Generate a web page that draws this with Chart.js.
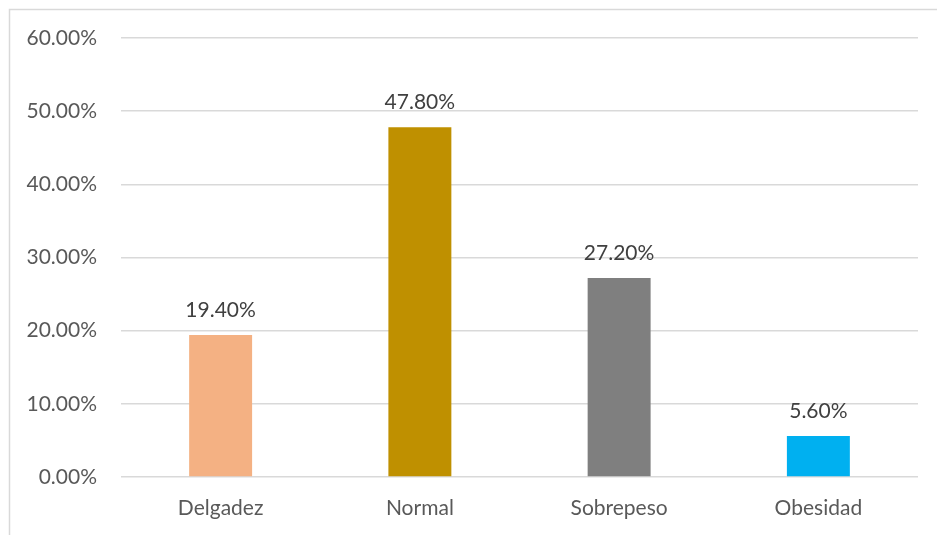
<!DOCTYPE html>
<html>
<head>
<meta charset="utf-8">
<script src="https://cdn.jsdelivr.net/npm/chart.js@4/dist/chart.umd.min.js"></script>
<style>
  html, body { margin: 0; padding: 0; background: #fff; }
  #wrap { width: 937px; height: 535px; }
</style>
</head>
<body>
<div id="wrap"><canvas id="myChart" width="937" height="535"></canvas></div>
<script>
const categories = ["Delgadez", "Normal", "Sobrepeso", "Obesidad"];
const values = [19.4, 47.8, 27.2, 5.6];
const barColors = ["#F4B183", "#BF9000", "#7F7F7F", "#00B0F0"];
const yTicks = [0, 10, 20, 30, 40, 50, 60];

const FONT = "Lato, 'Liberation Sans', sans-serif";
const TEXT = "#595959";

const pct = (v) => v.toFixed(2) + "%";

// outer frame of the chart, left and top edges only show
const framePlugin = {
  id: "frame",
  beforeDraw(chart) {
    const c = chart.ctx;
    c.save();
    c.strokeStyle = "#D9D9D9";
    c.lineWidth = 1.5;
    c.strokeRect(9.5, 9.5, chart.width + 20, chart.height + 20);
    c.restore();
  },
};

// value labels above each bar
const valueLabels = {
  id: "valueLabels",
  afterDatasetsDraw(chart) {
    const c = chart.ctx;
    const meta = chart.getDatasetMeta(0);
    c.save();
    c.font = "21px " + FONT;
    c.fillStyle = "#404040";
    c.textAlign = "center";
    c.textBaseline = "alphabetic";
    meta.data.forEach((bar, i) => {
      c.fillText(pct(values[i]), bar.x, bar.y - 18);
    });
    c.restore();
  },
};

const ctx = document.getElementById("myChart").getContext("2d");
new Chart(ctx, {
  type: "bar",
  data: {
    labels: categories,
    datasets: [
      {
        data: values,
        backgroundColor: barColors,
        categoryPercentage: 1,
        barPercentage: 0.316,
      },
    ],
  },
  options: {
    responsive: false,
    animation: false,
    events: [],
    plugins: { legend: { display: false }, tooltip: { enabled: false } },
    layout: { padding: { top: 38, right: 19, bottom: 0, left: 0 } },
    scales: {
      y: {
        min: 0,
        max: 60,
        afterFit(scale) { scale.width = 121; },
        afterBuildTicks(scale) { scale.ticks = yTicks.map((v) => ({ value: v })); },
        border: { display: false },
        grid: { color: "#D9D9D9", lineWidth: 1.5, drawTicks: false },
        ticks: {
          padding: 24,
          color: TEXT,
          font: { family: FONT, size: 21 },
          callback: (v) => pct(v),
        },
      },
      x: {
        afterFit(scale) { scale.height = 58; },
        border: { display: false },
        grid: { display: false, drawTicks: false },
        ticks: {
          padding: 19,
          color: TEXT,
          font: { family: FONT, size: 21 },
        },
      },
    },
  },
  plugins: [framePlugin, valueLabels],
});
</script>
</body>
</html>
